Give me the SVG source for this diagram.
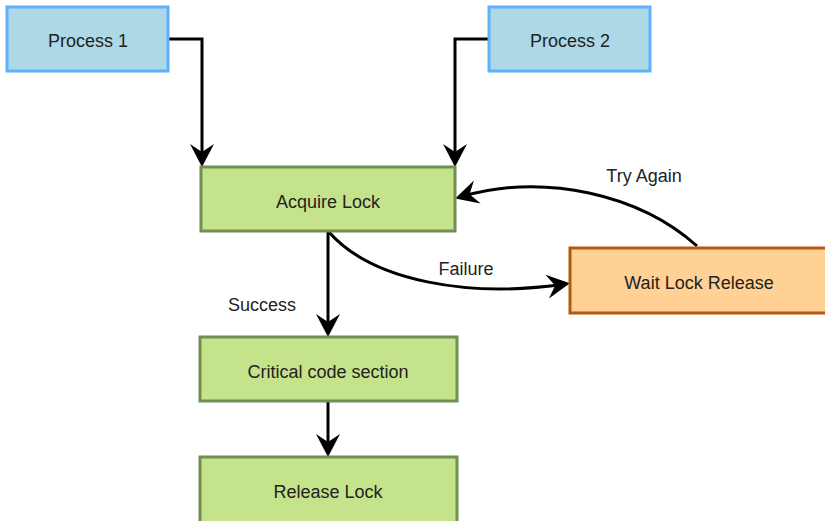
<svg xmlns="http://www.w3.org/2000/svg" width="825" height="521" viewBox="0 0 825 521">
<style>
.blue{fill:#add8e6;stroke:#5fb0ff;stroke-width:3}
.green{fill:#c5e38b;stroke:#6f8f55;stroke-width:3}
.orange{fill:#ffd194;stroke:#b35a0c;stroke-width:3}
text{font-family:"Liberation Sans",Arial,sans-serif;font-size:18px;fill:#222;text-anchor:middle}
.edge{fill:none;stroke:#000;stroke-width:3}
</style>
<defs>
<marker id="ah" markerUnits="userSpaceOnUse" markerWidth="30" markerHeight="30" viewBox="-20 -15 30 30" refX="0" refY="0" orient="auto" overflow="visible">
<path d="M5,0 L-18,-12 L-10,0 L-18,12 Z" fill="#000"/>
</marker>
</defs>
<g id="connectors">
<path class="edge" d="M168,39 H202 V162" marker-end="url(#ah)"/>
<path class="edge" d="M489,39 H455 V162" marker-end="url(#ah)"/>
<path class="edge" d="M328,231 V332" marker-end="url(#ah)"/>
<path class="edge" d="M328,401 V452" marker-end="url(#ah)"/>
<path class="edge" d="M328,231 C372,282 470,298 565,284" marker-end="url(#ah)"/>
<path class="edge" d="M697,246 C640,195 545,172 460,197" marker-end="url(#ah)"/>
<text x="466" y="275">Failure</text>
<text x="644" y="182">Try Again</text>
<text x="262" y="311">Success</text>
</g>
<g id="process1"><rect class="blue" x="7" y="7" width="161" height="64"/><text x="88" y="47">Process 1</text></g>
<g id="process2"><rect class="blue" x="489" y="7" width="161" height="64"/><text x="570" y="47">Process 2</text></g>
<g id="acquire"><rect class="green" x="201" y="167" width="254" height="64"/><text x="328" y="208">Acquire Lock</text></g>
<g id="critical"><rect class="green" x="200" y="337" width="257" height="64"/><text x="328" y="378">Critical code section</text></g>
<g id="release"><rect class="green" x="200" y="457" width="257" height="66"/><text x="328" y="498">Release Lock</text></g>
<g id="wait"><rect class="orange" x="570" y="248" width="257" height="65"/><text x="699" y="289">Wait Lock Release</text></g>
</svg>
